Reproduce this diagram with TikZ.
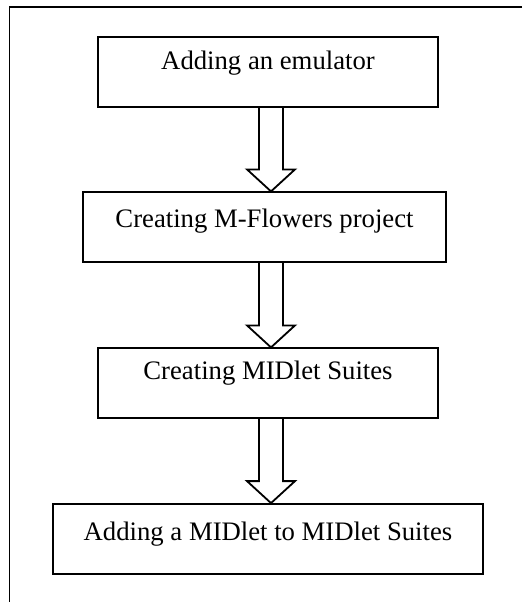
\documentclass[tikz,border=0pt]{standalone}
\usepackage{fontspec}
\setmainfont{Liberation Serif}
\usetikzlibrary{calc}
\tikzset{
  stepbox/.style={draw, line width=1.8pt, rectangle, inner sep=0pt, minimum height=70pt,
    font=\fontsize{26.7}{30}\selectfont},
  base/.style={text height=#1, text depth={70pt-#1}},
  blockarrow/.style={draw, line width=1.8pt, fill=white, line join=miter},
  frameline/.style={line width=1.8pt}
}
\begin{document}
\begin{tikzpicture}[x=1pt,y=-1pt]
\useasboundingbox (0,0) rectangle (522,602);
\coordinate (ftop) at (522,7);
\coordinate (fcorner) at (9.5,7);
\coordinate (fbot) at (9.5,602);
\draw[frameline] (ftop) -- (fcorner) -- (fbot);
\coordinate (ax) at (271,0);
\node[stepbox, base=32pt, minimum width=340pt] (b1) at (268,72.3) {Adding an emulator};
\node[stepbox, base=35pt, minimum width=363pt] (b2) at (264.5,227.3) {Creating M-Flowers project};
\node[stepbox, base=31pt, minimum width=340pt] (b3) at (268,383.3) {Creating MIDlet Suites};
\node[stepbox, base=36pt, minimum width=430pt] (b4) at (268,539) {Adding a MIDlet to MIDlet Suites};
\foreach \a/\b in {b1/b2, b2/b3, b3/b4}{
  \draw[blockarrow]
    ($(\a.south -| ax)+(-12,0)$) --
    ($(\b.north -| ax)+(-12,-22)$) --
    ($(\b.north -| ax)+(-24,-22)$) --
    (\b.north -| ax) --
    ($(\b.north -| ax)+(24,-22)$) --
    ($(\b.north -| ax)+(12,-22)$) --
    ($(\a.south -| ax)+(12,0)$);
}
\end{tikzpicture}
\end{document}
